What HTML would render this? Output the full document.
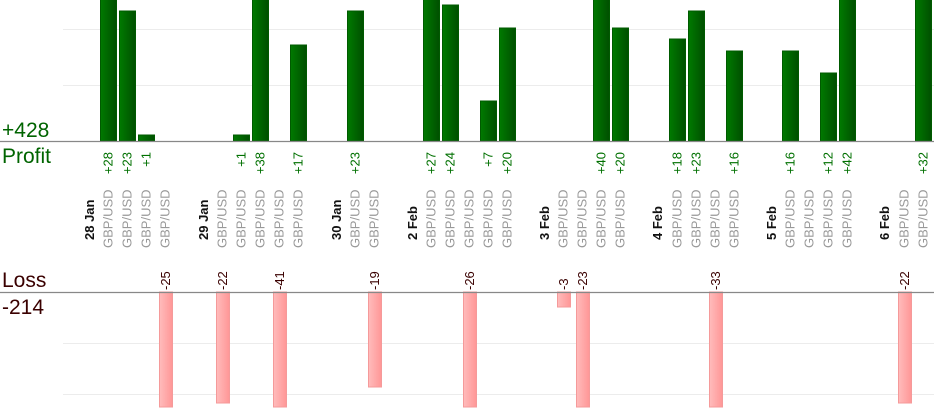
<!DOCTYPE html>
<html><head><meta charset="utf-8"><style>
html,body{margin:0;padding:0;background:#fff;}
svg{display:block;font-family:"Liberation Sans",sans-serif;}
</style></head><body>
<svg width="934" height="420" xmlns="http://www.w3.org/2000/svg">
<defs>
<linearGradient id="g" x1="0" x2="1" y1="0" y2="0"><stop offset="0" stop-color="#007a00"/><stop offset="1" stop-color="#004f00"/></linearGradient>
<linearGradient id="r" x1="0" x2="1" y1="0" y2="0"><stop offset="0" stop-color="#ffbcbc"/><stop offset="1" stop-color="#ff9696"/></linearGradient>
</defs>
<g stroke="#ececec" stroke-width="1">
<line x1="63" y1="29.5" x2="934" y2="29.5"/><line x1="63" y1="85.5" x2="934" y2="85.5"/>
<line x1="63" y1="343.5" x2="934" y2="343.5"/><line x1="63" y1="394.5" x2="934" y2="394.5"/>
</g>
<g fill="url(#g)" stroke="#005a00" stroke-width="1">
<rect x="100.5" y="-1" width="16" height="142"/>
<rect x="119.5" y="11" width="16" height="130"/>
<rect x="138.5" y="135" width="16" height="6"/>
<rect x="233.5" y="135" width="16" height="6"/>
<rect x="252.5" y="-1" width="16" height="142"/>
<rect x="290.5" y="45" width="16" height="96"/>
<rect x="347.5" y="11" width="16" height="130"/>
<rect x="423.5" y="-1" width="16" height="142"/>
<rect x="442.5" y="5" width="16" height="136"/>
<rect x="480.5" y="101" width="16" height="40"/>
<rect x="499.5" y="28" width="16" height="113"/>
<rect x="593.5" y="-1" width="16" height="142"/>
<rect x="612.5" y="28" width="16" height="113"/>
<rect x="669.5" y="39" width="16" height="102"/>
<rect x="688.5" y="11" width="16" height="130"/>
<rect x="726.5" y="51" width="16" height="90"/>
<rect x="782.5" y="51" width="16" height="90"/>
<rect x="820.5" y="73" width="16" height="68"/>
<rect x="839.5" y="-1" width="16" height="142"/>
<rect x="915.5" y="-1" width="16" height="142"/>
</g>
<g fill="url(#r)" stroke="#f59a9a" stroke-width="1">
<rect x="159.5" y="292" width="13" height="115"/>
<rect x="216.5" y="292" width="13" height="111"/>
<rect x="273.5" y="292" width="13" height="115"/>
<rect x="368.5" y="292" width="13" height="95"/>
<rect x="463.5" y="292" width="13" height="115"/>
<rect x="557.5" y="292" width="13" height="15"/>
<rect x="576.5" y="292" width="13" height="115"/>
<rect x="709.5" y="292" width="13" height="115"/>
<rect x="898.5" y="292" width="13" height="111"/>
</g>
<line x1="0" y1="141.5" x2="934" y2="141.5" stroke="#888" stroke-width="1.2"/>
<line x1="0" y1="292.5" x2="934" y2="292.5" stroke="#888" stroke-width="1.2"/>
<text x="2" y="137" font-size="21" fill="#006400">+428</text>
<text x="2" y="163" font-size="21" fill="#006400">Profit</text>
<text x="2" y="287" font-size="21" fill="#3a0000">Loss</text>
<text x="2" y="314" font-size="21" fill="#3a0000">-214</text>
<g font-size="13" fill="#007000" text-anchor="end">
<text transform="translate(112.5,152) rotate(-90)">+28</text>
<text transform="translate(131.5,152) rotate(-90)">+23</text>
<text transform="translate(150.5,152) rotate(-90)">+1</text>
<text transform="translate(245.5,152) rotate(-90)">+1</text>
<text transform="translate(264.5,152) rotate(-90)">+38</text>
<text transform="translate(302.5,152) rotate(-90)">+17</text>
<text transform="translate(359.5,152) rotate(-90)">+23</text>
<text transform="translate(435.5,152) rotate(-90)">+27</text>
<text transform="translate(454.5,152) rotate(-90)">+24</text>
<text transform="translate(492.5,152) rotate(-90)">+7</text>
<text transform="translate(511.5,152) rotate(-90)">+20</text>
<text transform="translate(605.5,152) rotate(-90)">+40</text>
<text transform="translate(624.5,152) rotate(-90)">+20</text>
<text transform="translate(681.5,152) rotate(-90)">+18</text>
<text transform="translate(700.5,152) rotate(-90)">+23</text>
<text transform="translate(738.5,152) rotate(-90)">+16</text>
<text transform="translate(794.5,152) rotate(-90)">+16</text>
<text transform="translate(832.5,152) rotate(-90)">+12</text>
<text transform="translate(851.5,152) rotate(-90)">+42</text>
<text transform="translate(927.5,152) rotate(-90)">+32</text>
</g>
<g font-size="13" fill="#3a0000">
<text transform="translate(170,290) rotate(-90)">-25</text>
<text transform="translate(227,290) rotate(-90)">-22</text>
<text transform="translate(284,290) rotate(-90)">-41</text>
<text transform="translate(379,290) rotate(-90)">-19</text>
<text transform="translate(474,290) rotate(-90)">-26</text>
<text transform="translate(568,290) rotate(-90)">-3</text>
<text transform="translate(587,290) rotate(-90)">-23</text>
<text transform="translate(720,290) rotate(-90)">-33</text>
<text transform="translate(909,290) rotate(-90)">-22</text>
</g>
<g font-size="13" fill="#999">
<text transform="translate(112.5,248) rotate(-90)">GBP/USD</text>
<text transform="translate(131.5,248) rotate(-90)">GBP/USD</text>
<text transform="translate(150.5,248) rotate(-90)">GBP/USD</text>
<text transform="translate(169.5,248) rotate(-90)">GBP/USD</text>
<text transform="translate(226.5,248) rotate(-90)">GBP/USD</text>
<text transform="translate(245.5,248) rotate(-90)">GBP/USD</text>
<text transform="translate(264.5,248) rotate(-90)">GBP/USD</text>
<text transform="translate(283.5,248) rotate(-90)">GBP/USD</text>
<text transform="translate(302.5,248) rotate(-90)">GBP/USD</text>
<text transform="translate(359.5,248) rotate(-90)">GBP/USD</text>
<text transform="translate(378.5,248) rotate(-90)">GBP/USD</text>
<text transform="translate(435.5,248) rotate(-90)">GBP/USD</text>
<text transform="translate(454.5,248) rotate(-90)">GBP/USD</text>
<text transform="translate(473.5,248) rotate(-90)">GBP/USD</text>
<text transform="translate(492.5,248) rotate(-90)">GBP/USD</text>
<text transform="translate(511.5,248) rotate(-90)">GBP/USD</text>
<text transform="translate(567.5,248) rotate(-90)">GBP/USD</text>
<text transform="translate(586.5,248) rotate(-90)">GBP/USD</text>
<text transform="translate(605.5,248) rotate(-90)">GBP/USD</text>
<text transform="translate(624.5,248) rotate(-90)">GBP/USD</text>
<text transform="translate(681.5,248) rotate(-90)">GBP/USD</text>
<text transform="translate(700.5,248) rotate(-90)">GBP/USD</text>
<text transform="translate(719.5,248) rotate(-90)">GBP/USD</text>
<text transform="translate(738.5,248) rotate(-90)">GBP/USD</text>
<text transform="translate(794.5,248) rotate(-90)">GBP/USD</text>
<text transform="translate(813.5,248) rotate(-90)">GBP/USD</text>
<text transform="translate(832.5,248) rotate(-90)">GBP/USD</text>
<text transform="translate(851.5,248) rotate(-90)">GBP/USD</text>
<text transform="translate(908.5,248) rotate(-90)">GBP/USD</text>
<text transform="translate(927.5,248) rotate(-90)">GBP/USD</text>
</g>
<g font-size="13" font-weight="bold" fill="#111">
<text transform="translate(94,240) rotate(-90)">28 Jan</text>
<text transform="translate(208,240) rotate(-90)">29 Jan</text>
<text transform="translate(341,240) rotate(-90)">30 Jan</text>
<text transform="translate(417,240) rotate(-90)">2 Feb</text>
<text transform="translate(549,240) rotate(-90)">3 Feb</text>
<text transform="translate(662,240) rotate(-90)">4 Feb</text>
<text transform="translate(776,240) rotate(-90)">5 Feb</text>
<text transform="translate(889,240) rotate(-90)">6 Feb</text>
</g>
</svg>
</body></html>
